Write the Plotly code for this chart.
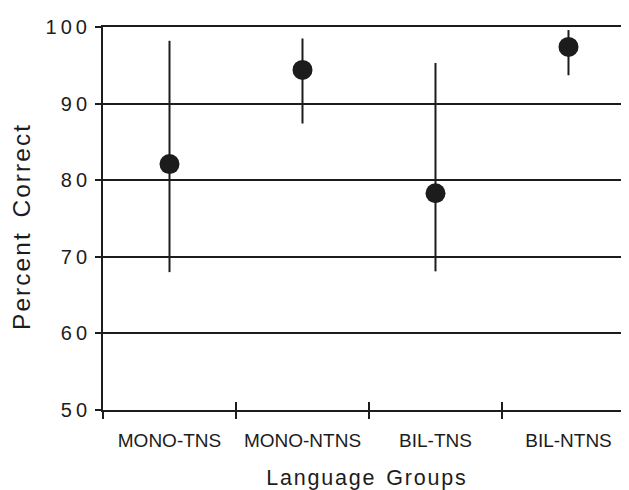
import plotly.graph_objects as go

groups = ["MONO-TNS", "MONO-NTNS", "BIL-TNS", "BIL-NTNS"]
means = [82.1, 94.4, 78.3, 97.4]
upper = [98.2, 98.5, 95.3, 99.6]
lower = [68.0, 87.4, 68.1, 93.7]
y_ticks = [50, 60, 70, 80, 90, 100]
x_title = "Language Groups"
y_title = "Percent Correct"

xs = list(range(len(groups)))
err_plus = [u - m for u, m in zip(upper, means)]
err_minus = [m - l for m, l in zip(means, lower)]

ink = "#1c1c1c"
font_family = "Liberation Sans, Arial, sans-serif"
thin = "\u2009"
hair = "\u200a"
nb = "\u00a0"


def tracked(text, gap):
    words = text.split(" ")
    return gap.join(hair.join(w) for w in words)


fig = go.Figure()
fig.add_trace(go.Scatter(
    x=xs, y=means, mode="markers",
    marker=dict(size=20, color=ink, line=dict(width=0)),
    error_y=dict(type="data", symmetric=False, array=err_plus, arrayminus=err_minus,
                 width=0, thickness=2, color=ink),
    showlegend=False, hoverinfo="skip",
))
# invisible trace to activate the overlay axis (inside boundary ticks)
fig.add_trace(go.Scatter(x=xs, y=means, xaxis="x2", mode="markers",
                         marker=dict(opacity=0), showlegend=False, hoverinfo="skip"))

boundaries = [i - 0.5 for i in range(len(groups))]

# page body has an 8px default margin, so the figure is sized to fit the window
fig.update_layout(
    width=621, height=482,
    margin=dict(l=95, r=0, t=19, b=80),
    paper_bgcolor="white", plot_bgcolor="white",
    font=dict(family=font_family, color=ink),
    xaxis=dict(
        range=[-0.5, 3.455], automargin=False,
        tickmode="array", tickvals=xs, ticktext=groups,
        ticks="outside", ticklen=0, tickcolor=ink,
        tickfont=dict(size=19, color=ink),
        ticklabelstandoff=12,
        showgrid=False, zeroline=False,
        showline=True, linecolor=ink, linewidth=2, mirror=True,
        minor=dict(tickmode="array", tickvals=boundaries, ticks="outside",
                   ticklen=7, tickwidth=1.5, tickcolor=ink, showgrid=False),
        title=dict(text=tracked(x_title, nb + nb), font=dict(size=21.5, color=ink), standoff=22),
    ),
    xaxis2=dict(
        overlaying="x", matches="x", anchor="y", side="bottom",
        showticklabels=False, showgrid=False, zeroline=False, showline=False,
        tickmode="array", tickvals=boundaries[1:], ticks="inside",
        ticklen=8, tickwidth=1.5, tickcolor=ink,
    ),
    yaxis=dict(
        range=[50, 100], automargin=False,
        tickmode="array", tickvals=y_ticks,
        ticktext=[thin.join(str(v)) for v in y_ticks],
        ticks="outside", ticklen=6, tickwidth=2, tickcolor=ink,
        tickfont=dict(size=20, color=ink),
        ticklabelstandoff=4,
        showgrid=True, gridcolor=ink, gridwidth=2,
        zeroline=False,
        showline=True, linecolor=ink, linewidth=2,
    ),
    annotations=[dict(
        text=tracked(y_title, nb + hair + nb), textangle=-90,
        xref="paper", yref="paper", x=-0.155, y=0.4765,
        xanchor="center", yanchor="middle", showarrow=False,
        font=dict(size=24.5, color=ink),
    )],
)

fig.write_html("out.html")
